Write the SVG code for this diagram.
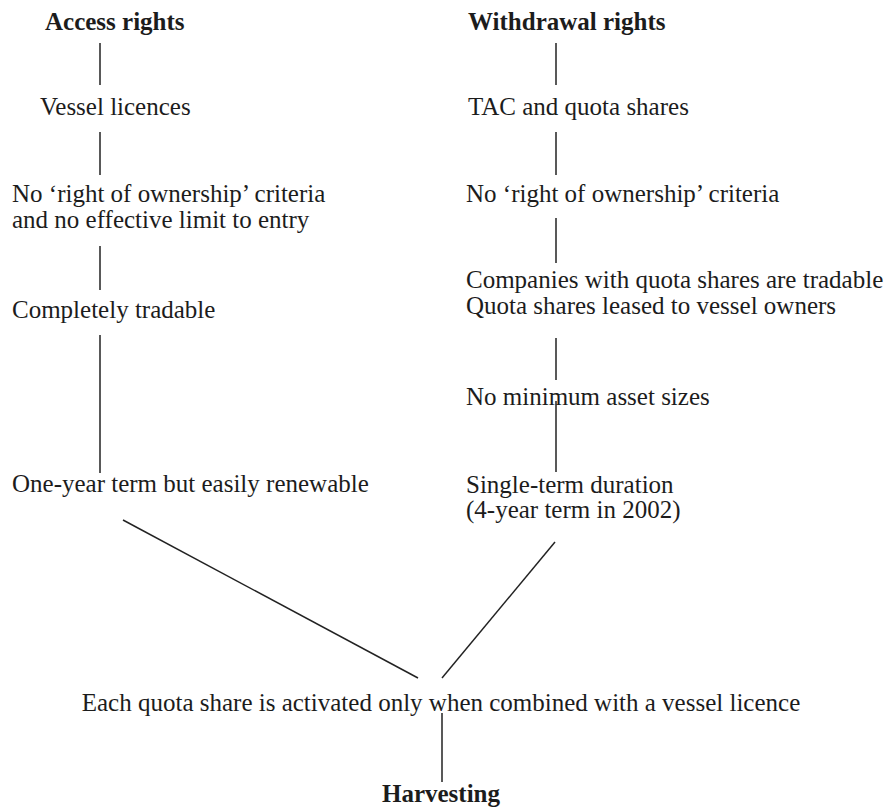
<svg xmlns="http://www.w3.org/2000/svg" width="890" height="812" viewBox="0 0 890 812">
<style>
text{font-family:"Liberation Serif","Times New Roman",serif;font-size:25px;fill:#1c1c1c}
.b{font-weight:bold}
.c{stroke:#222;stroke-width:1.5;fill:none}
</style>
<rect width="890" height="812" fill="#ffffff"/>
<g id="connectors">
<line class="c" x1="100" y1="43" x2="100" y2="85"/>
<line class="c" x1="100" y1="132" x2="100" y2="175"/>
<line class="c" x1="100" y1="246" x2="100" y2="290"/>
<line class="c" x1="100" y1="335" x2="100" y2="473"/>
<line class="c" x1="556" y1="43" x2="556" y2="85"/>
<line class="c" x1="556" y1="132" x2="556" y2="175"/>
<line class="c" x1="556" y1="218" x2="556" y2="263"/>
<line class="c" x1="556" y1="338" x2="556" y2="380"/>
<line class="c" x1="556" y1="401" x2="556" y2="472"/>
<line class="c" x1="123" y1="520" x2="418" y2="678"/>
<line class="c" x1="555" y1="542" x2="442" y2="678"/>
<line class="c" x1="442" y1="713" x2="442" y2="782"/>
</g>
<g id="access-rights"><text class="b" x="45" y="30">Access rights</text></g>
<g id="vessel-licences"><text x="40" y="115">Vessel licences</text></g>
<g id="left-ownership"><text x="12" y="202">No ‘right of ownership’ criteria</text><text x="12" y="228">and no effective limit to entry</text></g>
<g id="completely-tradable"><text x="12" y="318">Completely tradable</text></g>
<g id="one-year-term"><text x="12" y="492">One-year term but easily renewable</text></g>
<g id="withdrawal-rights"><text class="b" x="468" y="30">Withdrawal rights</text></g>
<g id="tac-quota"><text x="468" y="115">TAC and quota shares</text></g>
<g id="right-ownership"><text x="466" y="202">No ‘right of ownership’ criteria</text></g>
<g id="companies"><text x="466" y="288">Companies with quota shares are tradable</text><text x="466" y="314">Quota shares leased to vessel owners</text></g>
<g id="min-asset"><text x="466" y="405">No minimum asset sizes</text></g>
<g id="single-term"><text x="466" y="493">Single-term duration</text><text x="466" y="518">(4-year term in 2002)</text></g>
<g id="combined"><text x="441" y="711" text-anchor="middle">Each quota share is activated only when combined with a vessel licence</text></g>
<g id="harvesting"><text class="b" x="441" y="802" text-anchor="middle">Harvesting</text></g>
</svg>
